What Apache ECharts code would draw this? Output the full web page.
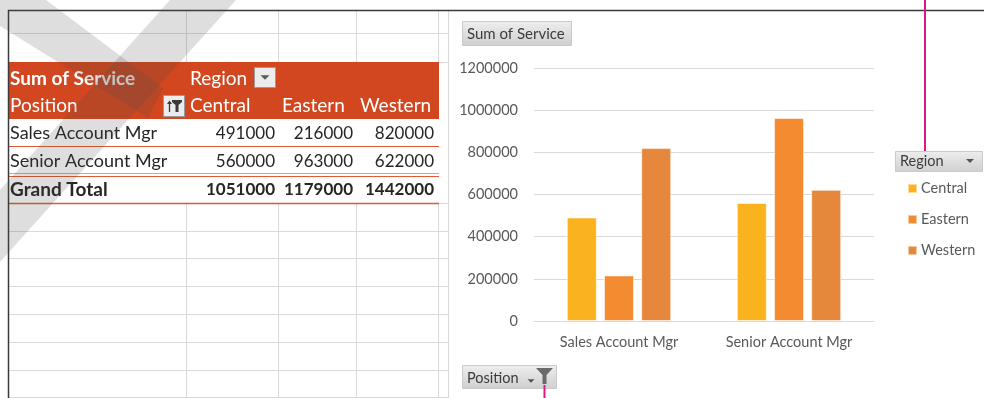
<!DOCTYPE html>
<html>
<head>
<meta charset="utf-8">
<script src="https://cdn.jsdelivr.net/npm/echarts@6/dist/echarts.min.js"></script>
<style>
  html, body { margin: 0; padding: 0; background: #ffffff; }
  #chart { width: 984px; height: 398px; }
</style>
</head>
<body>
<div id="chart"></div>
<script>
// Pivot data: Sum of Service by Position (rows) and Region (columns)
const regions = ['Central', 'Eastern', 'Western'];
const positions = ['Sales Account Mgr', 'Senior Account Mgr'];
const central = [491000, 560000];
const eastern = [216000, 963000];
const western = [820000, 622000];
const seriesValues = [central, eastern, western];
const regionColors = ['#FBB21F', '#F58B30', '#E5883B'];
const yMin = 0, yMax = 1200000, yStep = 200000;

const FONT = 'Lato, "Noto Sans", sans-serif';
const HEADER = '#D2471F';
const ROWLINE = '#E25A33';
const GRID = '#DADADA';

const chart = echarts.init(document.getElementById('chart'), null, { renderer: 'canvas', width: 984, height: 398 });

const g = [];
function line(x1, y1, x2, y2, color, w, z) {
  g.push({ type: 'line', z: z || 1, silent: true,
    shape: { x1, y1, x2, y2 }, style: { stroke: color, lineWidth: w || 1 } });
}
function rect(x, y, w, h, fill, stroke, z) {
  g.push({ type: 'rect', z: z || 1, silent: true,
    shape: { x, y, width: w, height: h },
    style: { fill, stroke: stroke || null, lineWidth: stroke ? 1 : 0 } });
}
function text(x, y, s, opt) {
  opt = opt || {};
  g.push({ type: 'text', z: opt.z || 5, silent: true, x, y,
    style: { text: s, fill: opt.color || '#262626', font: (opt.weight || 'normal') + ' ' + (opt.size || 18) + 'px ' + FONT,
      textAlign: opt.align || 'left', textVerticalAlign: 'middle' } });
}
function tri(cx, cy, s, color, z) {
  g.push({ type: 'polygon', z: z || 6, silent: true,
    shape: { points: [[cx - s, cy - s / 2], [cx + s, cy - s / 2], [cx, cy + s / 2]] }, style: { fill: color } });
}
function button(x, y, w, h) {
  g.push({ type: 'rect', z: 4, silent: true, shape: { x, y, width: w, height: h },
    style: { fill: new echarts.graphic.LinearGradient(0, 0, 0, 1, [{ offset: 0, color: '#EEEEEE' }, { offset: 1, color: '#CFCFCF' }]),
      stroke: '#CACACA', lineWidth: 1 } });
}

// ---- worksheet grid ----
const colX = [186, 278, 356, 438, 448];
const rowsTop = [33, 62];
const rowsBottom = [203, 231, 258, 286, 314, 342, 370, 397];
rowsTop.forEach(y => line(8, y + 0.5, 448, y + 0.5, GRID, 1));
rowsBottom.forEach(y => line(8, y + 0.5, 448, y + 0.5, GRID, 1));
colX.forEach(x => { line(x + 0.5, 10, x + 0.5, 62, GRID, 1); line(x + 0.5, 203, x + 0.5, 398, GRID, 1); });
line(438.5, 62, 438.5, 203, GRID, 1);
line(448.5, 62, 448.5, 203, GRID, 1);

// ---- pivot table ----
rect(8, 62, 431, 57, HEADER);
rect(8, 119, 431, 84, '#ffffff');
text(10, 78.5, 'Sum of Service', { color: '#ffffff', weight: 'bold', size: 19 });
text(190, 78.5, 'Region', { color: '#ffffff', size: 19 });
rect(254.5, 67.5, 21, 20, '#ECECEC', '#9A9A9A', 4);
tri(265, 77.5, 4.5, '#5A5A5A');
text(10, 105.5, 'Position', { color: '#ffffff', size: 19 });
rect(163.5, 95.5, 21, 21, '#ECECEC', '#9A9A9A', 4);
// sort/filter icon
line(169.5, 102, 169.5, 112, '#3A3A3A', 1.3, 6);
g.push({ type: 'polygon', z: 6, silent: true, shape: { points: [[167, 104], [169.5, 100.5], [172, 104]] }, style: { fill: '#3A3A3A' } });
g.push({ type: 'polygon', z: 6, silent: true,
  shape: { points: [[172, 100], [182, 100], [182, 102], [178.5, 105], [178.5, 112], [175.5, 112], [175.5, 105], [172, 102]] },
  style: { fill: '#3A3A3A' } });
const colRight = [275, 353, 434];
const headX = [190, 282, 360];
regions.forEach((r, j) => text(headX[j], 105.5, r, { color: '#ffffff', size: 19 }));
const rowY = [133.5, 161.5];
positions.forEach((p, i) => {
  text(10, rowY[i], p);
  seriesValues.forEach((vals, j) => text(colRight[j], rowY[i], String(vals[i]), { align: 'right', size: 17 }));
});
text(10, 189.5, 'Grand Total', { weight: 'bold', size: 19 });
seriesValues.forEach((vals, j) => {
  const total = vals.reduce((a, b) => a + b, 0);
  text(colRight[j], 189.5, String(total), { align: 'right', weight: 'bold', size: 17 });
});
line(8, 146.5, 439, 146.5, ROWLINE, 1.2, 3);
line(8, 173.5, 439, 173.5, '#EE9A80', 1.2, 3);
line(8, 176.5, 439, 176.5, ROWLINE, 1.2, 3);
line(8, 203.5, 439, 203.5, ROWLINE, 1.6, 3);

// ---- sheet border ----
line(8.5, 10, 8.5, 398, '#3A3A3A', 1.5, 8);
line(8, 10.5, 984, 10.5, '#3A3A3A', 1.5, 8);

// ---- faded diagonal watermark ----
const wm = 'rgba(70,70,70,0.18)';
g.push({ type: 'polygon', z: 20, silent: true,
  shape: { points: [[170, 0], [236, 0], [0, 262], [0, 190]] }, style: { fill: wm } });
g.push({ type: 'polygon', z: 20, silent: true,
  shape: { points: [[0, 0], [46, 0], [163, 88], [148, 118], [0, 26]] }, style: { fill: wm } });

// ---- chart field buttons ----
button(462.5, 21.5, 109, 24);
text(467, 34, 'Sum of Service', { size: 15, color: '#3C3C3C' });

button(895.5, 151.5, 87, 20);
text(900, 161.5, 'Region', { size: 14.5, color: '#3C3C3C' });
tri(970, 161, 4, '#555555');

button(462.5, 365.5, 94, 23);
text(467, 378, 'Position', { size: 14.5, color: '#3C3C3C' });
tri(531, 381, 3.5, '#555555');
g.push({ type: 'polygon', z: 6, silent: true,
  shape: { points: [[536, 368], [553, 368], [546.5, 375], [546.5, 384], [542.5, 384], [542.5, 375]] }, style: { fill: '#6A6A6A' } });

// callout leader lines
line(925, 0, 925, 151, '#E4148C', 2, 10);
line(544.5, 385, 544.5, 398, '#E4148C', 2, 10);

const option = {
  animation: false,
  backgroundColor: '#ffffff',
  textStyle: { fontFamily: FONT },
  graphic: { elements: g },
  grid: { left: 534, top: 68, width: 340, height: 253, containLabel: false },
  legend: {
    orient: 'vertical', left: 902, top: 175,
    data: regions, icon: 'rect', itemWidth: 9, itemHeight: 9, itemGap: 14,
    textStyle: { color: '#595959', fontSize: 14.5, fontFamily: FONT, lineHeight: 17, padding: [0, 0, 0, -1] },
    selectedMode: false
  },
  xAxis: {
    type: 'category', data: positions,
    axisLine: { lineStyle: { color: '#D9D9D9', width: 1 } },
    axisTick: { show: false },
    axisLabel: { color: '#595959', fontSize: 14.5, fontFamily: FONT, margin: 14 }
  },
  yAxis: {
    type: 'value', min: yMin, max: yMax, interval: yStep,
    axisLine: { show: false }, axisTick: { show: false },
    splitLine: { lineStyle: { color: '#D9D9D9', width: 1 } },
    axisLabel: { color: '#595959', fontSize: 14.5, fontFamily: FONT, margin: 16, formatter: v => String(v) }
  },
  series: regions.map((name, i) => ({
    name, type: 'bar', data: seriesValues[i],
    barWidth: 30, barGap: '24%',
    itemStyle: { color: regionColors[i], borderColor: 'rgba(255,255,255,0.55)', borderWidth: 1 },
    z: 5
  }))
};
chart.setOption(option);
</script>
</body>
</html>
